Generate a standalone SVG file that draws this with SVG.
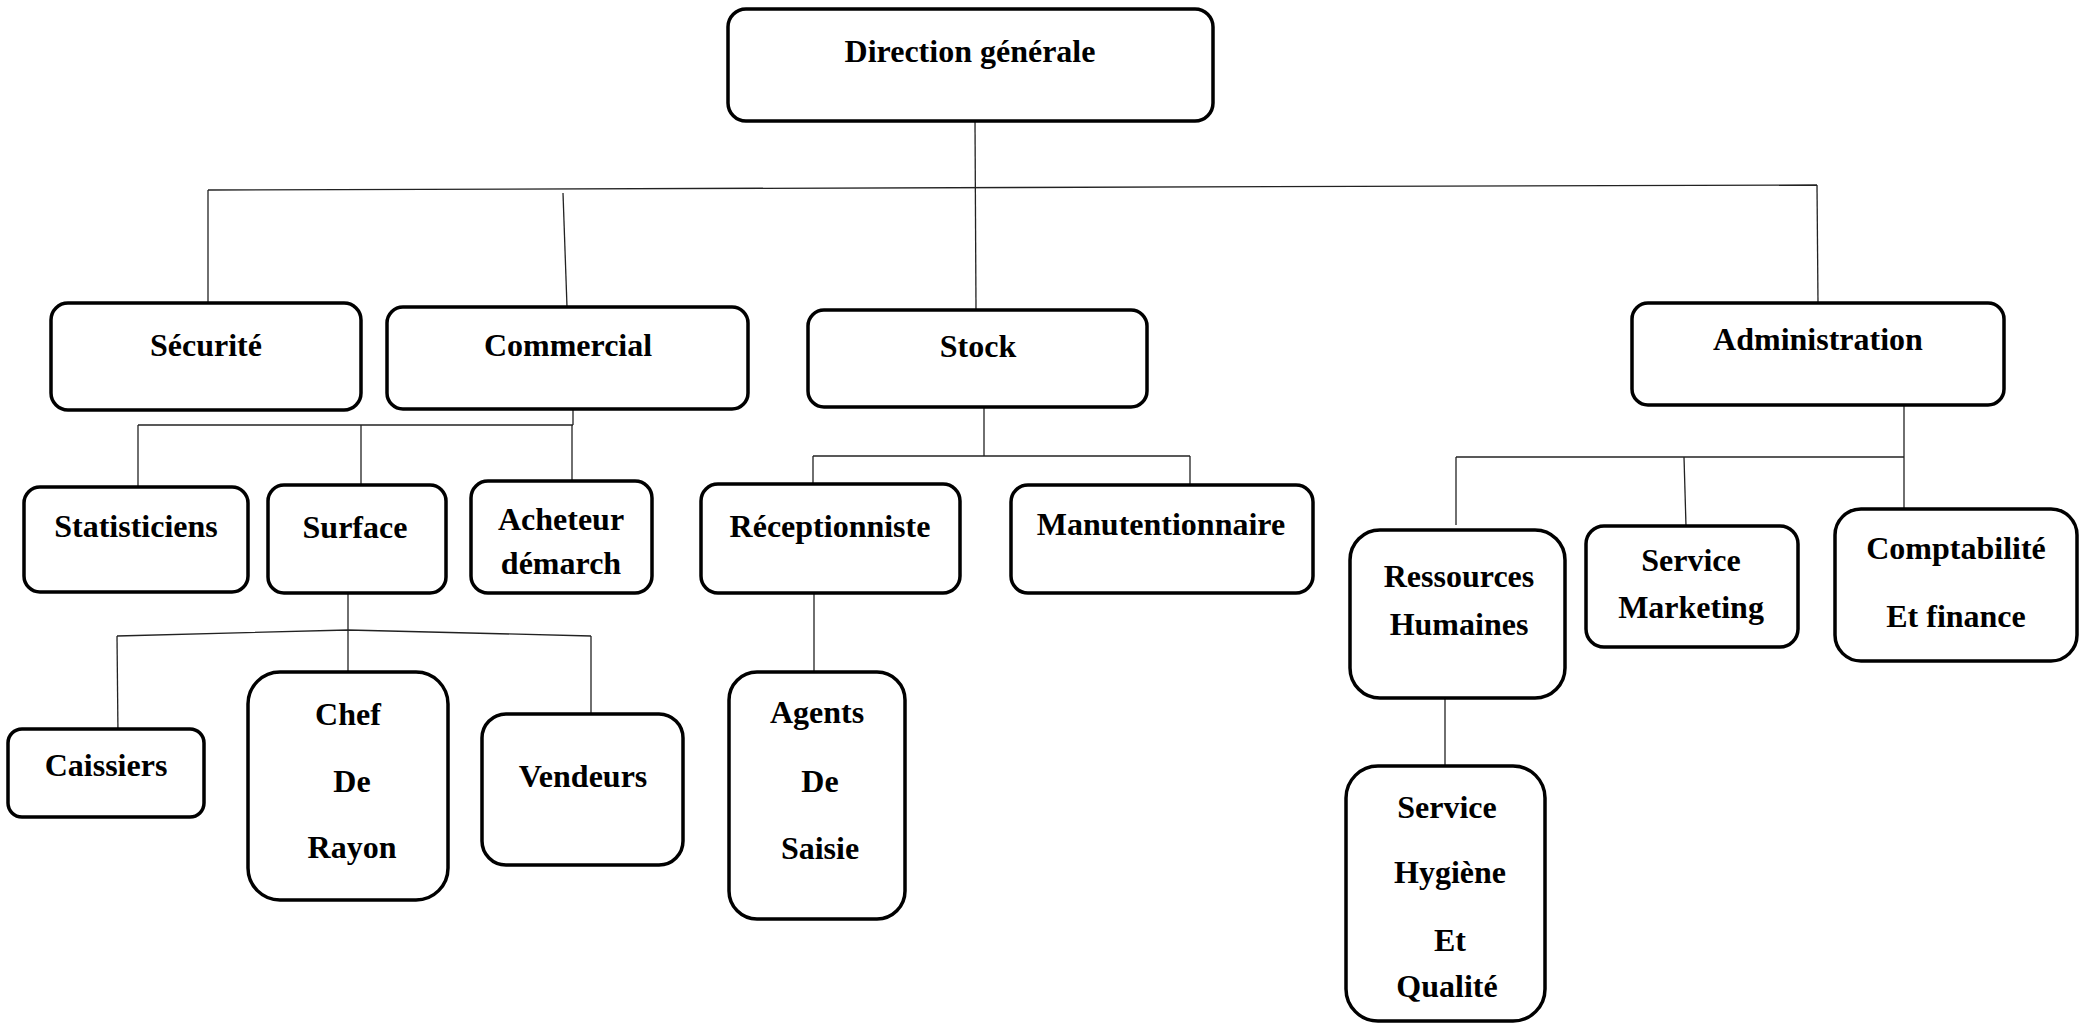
<svg xmlns="http://www.w3.org/2000/svg" width="2087" height="1024" viewBox="0 0 2087 1024">
<style>
.n rect{fill:#fff;stroke:#000;stroke-width:3.5}
.n text{font-family:"Liberation Serif","Times New Roman",serif;font-weight:bold;font-size:32px;fill:#000;text-anchor:middle}
#connectors path{fill:none;stroke:#222;stroke-width:1.3}
</style>
<rect width="2087" height="1024" fill="#fff"/>
<g id="connectors">
<path d="M975,121 L976,310"/>
<path d="M208,190 L1817,185"/>
<path d="M208,190 L208,303"/>
<path d="M563,193 L567,307"/>
<path d="M1817,185 L1818,303"/>
<path d="M573,409 L573,425"/>
<path d="M138,425 L573,425"/>
<path d="M138,425 L138,487"/>
<path d="M361,425 L361,485"/>
<path d="M572,425 L572,481"/>
<path d="M348,593 L348,672"/>
<path d="M117,636 L348,630 L591,636"/>
<path d="M117,636 L118,735"/>
<path d="M591,636 L591,714"/>
<path d="M984,407 L984,456"/>
<path d="M813,456 L1190,456"/>
<path d="M813,456 L813,484"/>
<path d="M1190,456 L1190,485"/>
<path d="M814,593 L814,672"/>
<path d="M1904,405 L1904,509"/>
<path d="M1456,457 L1904,457"/>
<path d="M1456,457 L1456,525"/>
<path d="M1684,457 L1686,526"/>
<path d="M1445,698 L1445,766"/>
</g>
<g id="dg" class="n"><rect x="728" y="9" width="485" height="112" rx="18"/><text x="970" y="62">Direction générale</text></g>
<g id="securite" class="n"><rect x="51" y="303" width="310" height="107" rx="17"/><text x="206" y="356">Sécurité</text></g>
<g id="commercial" class="n"><rect x="387" y="307" width="361" height="102" rx="16"/><text x="568" y="356">Commercial</text></g>
<g id="stock" class="n"><rect x="808" y="310" width="339" height="97" rx="16"/><text x="978" y="357">Stock</text></g>
<g id="administration" class="n"><rect x="1632" y="303" width="372" height="102" rx="16"/><text x="1818" y="350">Administration</text></g>
<g id="statisticiens" class="n"><rect x="24" y="487" width="224" height="105" rx="16"/><text x="136" y="537">Statisticiens</text></g>
<g id="surface" class="n"><rect x="268" y="485" width="178" height="108" rx="16"/><text x="355" y="538">Surface</text></g>
<g id="acheteur" class="n"><rect x="471" y="481" width="181" height="112" rx="17"/><text x="561" y="530">Acheteur</text><text x="561" y="574">démarch</text></g>
<g id="receptionniste" class="n"><rect x="701" y="484" width="259" height="109" rx="17"/><text x="830" y="537">Réceptionniste</text></g>
<g id="manutentionnaire" class="n"><rect x="1011" y="485" width="302" height="108" rx="17"/><text x="1161" y="535">Manutentionnaire</text></g>
<g id="caissiers" class="n"><rect x="8" y="729" width="196" height="88" rx="14"/><text x="106" y="776">Caissiers</text></g>
<g id="chef-de-rayon" class="n"><rect x="248" y="672" width="200" height="228" rx="32"/><text x="348" y="725">Chef</text><text x="352" y="792">De</text><text x="352" y="858">Rayon</text></g>
<g id="vendeurs" class="n"><rect x="482" y="714" width="201" height="151" rx="24"/><text x="583" y="787">Vendeurs</text></g>
<g id="agents-de-saisie" class="n"><rect x="729" y="672" width="176" height="247" rx="28"/><text x="817" y="723">Agents</text><text x="820" y="792">De</text><text x="820" y="859">Saisie</text></g>
<g id="rh" class="n"><rect x="1350" y="530" width="215" height="168" rx="30"/><text x="1459" y="587">Ressources</text><text x="1459" y="635">Humaines</text></g>
<g id="marketing" class="n"><rect x="1586" y="526" width="212" height="121" rx="18"/><text x="1691" y="571">Service</text><text x="1691" y="618">Marketing</text></g>
<g id="comptabilite" class="n"><rect x="1835" y="509" width="242" height="152" rx="26"/><text x="1956" y="559">Comptabilité</text><text x="1956" y="627">Et finance</text></g>
<g id="hygiene" class="n"><rect x="1346" y="766" width="199" height="255" rx="32"/><text x="1447" y="818">Service</text><text x="1450" y="883">Hygiène</text><text x="1450" y="951">Et</text><text x="1447" y="997">Qualité</text></g>
</svg>
